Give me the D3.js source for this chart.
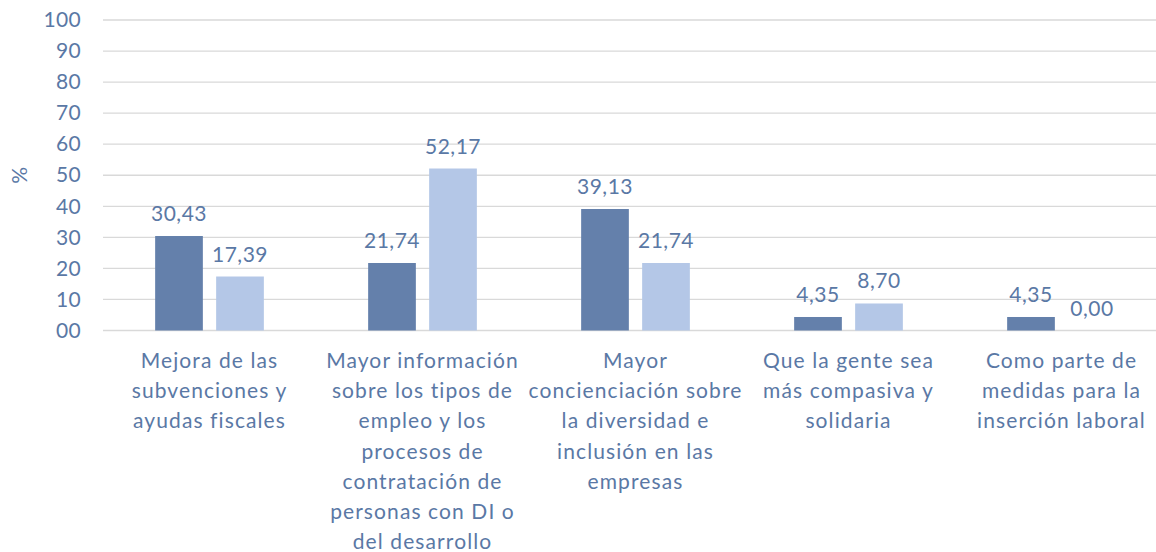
<!DOCTYPE html>
<html>
<head>
<meta charset="utf-8">
<script src="https://cdn.jsdelivr.net/npm/d3@7"></script>
<style>
  body { margin: 0; background: #fff; }
  text { font-family: Lato, "Open Sans", sans-serif; fill: #5a78a5; }
</style>
</head>
<body>
<svg id="chart" width="1156" height="552"></svg>
<script>
// Data
const categories = [
  ["Mejora de las", "subvenciones y", "ayudas fiscales"],
  ["Mayor información", "sobre los tipos de", "empleo y los", "procesos de", "contratación de", "personas con DI o", "del desarrollo"],
  ["Mayor", "concienciación sobre", "la diversidad e", "inclusión en las", "empresas"],
  ["Que la gente sea", "más compasiva y", "solidaria"],
  ["Como parte de", "medidas para la", "inserción laboral"]
];
const seriesA = [30.43, 21.74, 39.13, 4.35, 4.35];
const seriesB = [17.39, 52.17, 21.74, 8.70, 0.00];
const yTicks = [0, 10, 20, 30, 40, 50, 60, 70, 80, 90, 100];
const yTickLabels = ["00", "10", "20", "30", "40", "50", "60", "70", "80", "90", "100"];

const colors = ["#6480ab", "#b4c7e7"];

const margin = {top: 20, right: 0, bottom: 222, left: 103};
const plotRight = 1168; // last category is clipped by the picture edge
const height = 330.5 - margin.top;

const svg = d3.select("#chart");
const g = svg.append("g").attr("transform", `translate(0,${margin.top})`);

const x = d3.scaleBand()
  .domain(d3.range(categories.length))
  .range([margin.left, plotRight]);

const y = d3.scaleLinear().domain([0, 100]).range([height, 0]);

// gridlines
g.selectAll(".grid")
  .data(yTicks)
  .enter().append("line")
  .attr("x1", margin.left)
  .attr("x2", 1156)
  .attr("y1", d => y(d))
  .attr("y2", d => y(d))
  .attr("stroke", "#d9d9d9")
  .attr("stroke-width", 1.3);

// y axis labels
const yAxis = g.append("g")
  .attr("transform", `translate(${margin.left},0)`)
  .call(d3.axisLeft(y).tickValues(yTicks).tickSize(0).tickPadding(22)
    .tickFormat((d, i) => yTickLabels[i]));
yAxis.select(".domain").remove();
yAxis.selectAll("text")
  .style("font-family", "Lato, sans-serif")
  .style("font-size", "21px")
  .style("letter-spacing", "0.3px")
  .attr("fill", "#5a78a5");

g.append("text")
  .attr("transform", `translate(27,${y(50)}) rotate(-90)`)
  .attr("text-anchor", "middle")
  .attr("font-size", "21px")
  .text("%");

// bars
const barW = 47.7, gap = 13.3;
const series = [seriesA, seriesB];
series.forEach((vals, s) => {
  const off = s === 0 ? -(gap / 2 + barW) : gap / 2;
  g.selectAll(".bar" + s)
    .data(vals)
    .enter().append("rect")
    .attr("x", (d, i) => x(i) + x.bandwidth() / 2 + off)
    .attr("y", d => y(d))
    .attr("width", barW)
    .attr("height", d => height - y(d))
    .attr("fill", colors[s]);

  g.selectAll(".lab" + s)
    .data(vals)
    .enter().append("text")
    .attr("x", (d, i) => x(i) + x.bandwidth() / 2 + off + barW / 2)
    .attr("y", d => y(d) - 15)
    .attr("text-anchor", "middle")
    .attr("font-size", "21px")
    .style("letter-spacing", "0.5px")
    .text(d => d3.format(".2f")(d).replace(".", ","));
});

// category labels
const cat = g.selectAll(".cat")
  .data(categories)
  .enter().append("text")
  .attr("text-anchor", "middle")
  .attr("font-size", "21px")
  .style("letter-spacing", "1.1px");
cat.selectAll("tspan")
  .data((d, i) => d.map(line => ({line, i})))
  .enter().append("tspan")
  .attr("x", d => x(d.i) + x.bandwidth() / 2)
  .attr("y", (d, j) => height + 37.5 + j * 30.2)
  .text(d => d.line);
</script>
</body>
</html>
